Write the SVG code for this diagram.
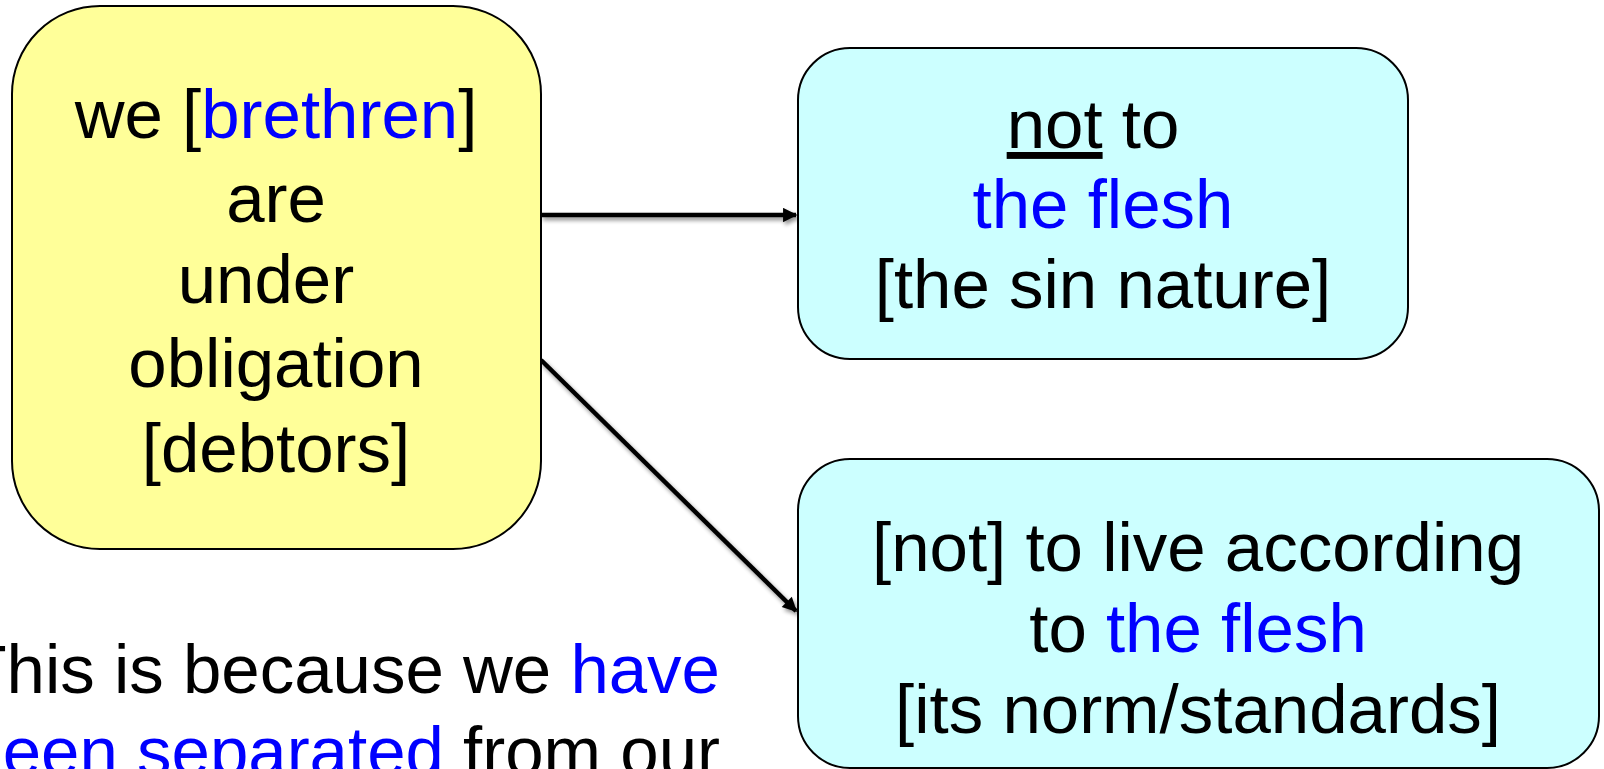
<svg xmlns="http://www.w3.org/2000/svg" width="1604" height="769" viewBox="0 0 1604 769">
<style>
.t{font-family:"Liberation Sans",Arial,sans-serif;font-size:69px;fill:#000;text-anchor:middle}
.b{fill:#0000FF}
.box{stroke:#000;stroke-width:2}
.conn{stroke:#000;stroke-width:4.5;fill:none;marker-end:url(#ah)}
</style>
<defs>
<marker id="ah" viewBox="0 0 10 10" refX="9" refY="5" markerWidth="3.6" markerHeight="3.2" orient="auto" markerUnits="strokeWidth">
<path d="M0,0 L10,5 L0,10 z" fill="#000"/>
</marker>
<filter id="sh" x="-10%" y="-10%" width="130%" height="130%">
<feGaussianBlur in="SourceAlpha" stdDeviation="2"/>
<feOffset dx="2" dy="3" result="o"/>
<feComponentTransfer><feFuncA type="linear" slope="0.45"/></feComponentTransfer>
<feMerge><feMergeNode/><feMergeNode in="SourceGraphic"/></feMerge>
</filter>
</defs>
<rect width="1604" height="769" fill="#fff"/>
<g id="connectors" filter="url(#sh)">
<line class="conn" x1="541" y1="215" x2="796" y2="215"/>
<line class="conn" x1="541" y1="360" x2="796" y2="611"/>
</g>
<g id="node-debtors">
<rect class="box" x="12" y="6" width="529" height="543" rx="88" ry="88" fill="#FFFF99"/>
<text class="t" x="276" y="138">we [<tspan class="b">brethren</tspan>]</text>
<text class="t" x="276" y="222">are</text>
<text class="t" x="266" y="303">under</text>
<text class="t" x="276" y="387">obligation</text>
<text class="t" x="276" y="472">[debtors]</text>
</g>
<g id="node-flesh">
<rect class="box" x="798" y="48" width="610" height="311" rx="52" ry="52" fill="#CCFFFF"/>
<text class="t" x="1093" y="148"><tspan text-decoration="underline">not</tspan> to</text>
<text class="t b" x="1103" y="228">the flesh</text>
<text class="t" x="1103" y="308">[the sin nature]</text>
</g>
<g id="node-live">
<rect class="box" x="798" y="459" width="801" height="309" rx="52" ry="52" fill="#CCFFFF"/>
<text class="t" x="1198" y="571">[not] to live according</text>
<text class="t" x="1198" y="652">to <tspan class="b">the flesh</tspan></text>
<text class="t" x="1198" y="733">[its norm/standards]</text>
</g>
<g id="note">
<text class="t" style="text-anchor:end" x="720" y="693">This is because we <tspan class="b">have</tspan></text>
<text class="t" style="text-anchor:end" x="720" y="775"><tspan class="b">been separated</tspan> from our</text>
</g>
</svg>
